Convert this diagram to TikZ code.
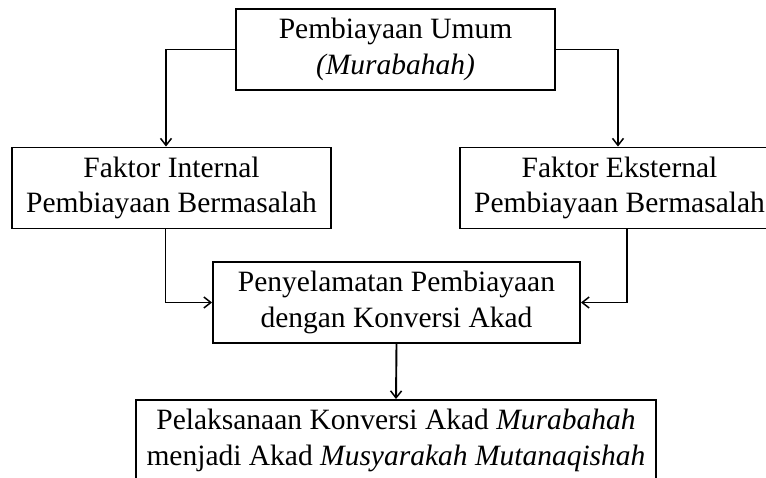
\documentclass[tikz,border=0pt]{standalone}
\usepackage{fontspec}
\setmainfont{Liberation Serif}
\usetikzlibrary{arrows.meta}

\tikzset{
    box/.style={draw,line width=1.9pt,align=center,inner sep=0pt,
        minimum height=81pt,font=\fontsize{29.5}{35.5}\selectfont},
    arr/.style={line width=1.9pt,-{Straight Barb[length=7pt,width=11pt,line width=1.5pt]}}
}

\begin{document}
\begin{tikzpicture}[x=1pt,y=1pt]
    \useasboundingbox (0,0) rectangle (766,-477);
    \clip (0,0) rectangle (766,-477);

    % Boxes
    \node[box,minimum width=319pt] (umum) at (395.5,-49.5) {Pembiayaan Umum\\\textit{(Murabahah)}};
    \node[box,minimum width=319pt] (internal) at (171.5,-188) {Faktor Internal\\Pembiayaan Bermasalah};
    \node[box,minimum width=319pt] (eksternal) at (619.5,-188) {Faktor Eksternal\\Pembiayaan Bermasalah};
    \node[box,minimum width=367pt] (selamat) at (396.5,-302.5) {Penyelamatan Pembiayaan\\dengan Konversi Akad};
    \node[box,minimum width=520pt] (konversi) at (396,-440.5) {Pelaksanaan Konversi Akad \textit{Murabahah}\\menjadi Akad \textit{Musyarakah Mutanaqishah}};

    % Connections
    \draw[arr] (umum.west) -| ([xshift=-5.5pt]internal.north);
    \draw[arr] (umum.east) -| ([xshift=-1.5pt]eksternal.north);
    \draw[arr] ([xshift=-6pt]internal.south) |- (selamat.west);
    \draw[arr] ([xshift=7.5pt]eksternal.south) |- (selamat.east);
    \draw[arr] (selamat.south) -- (konversi.north);
\end{tikzpicture}
\end{document}
